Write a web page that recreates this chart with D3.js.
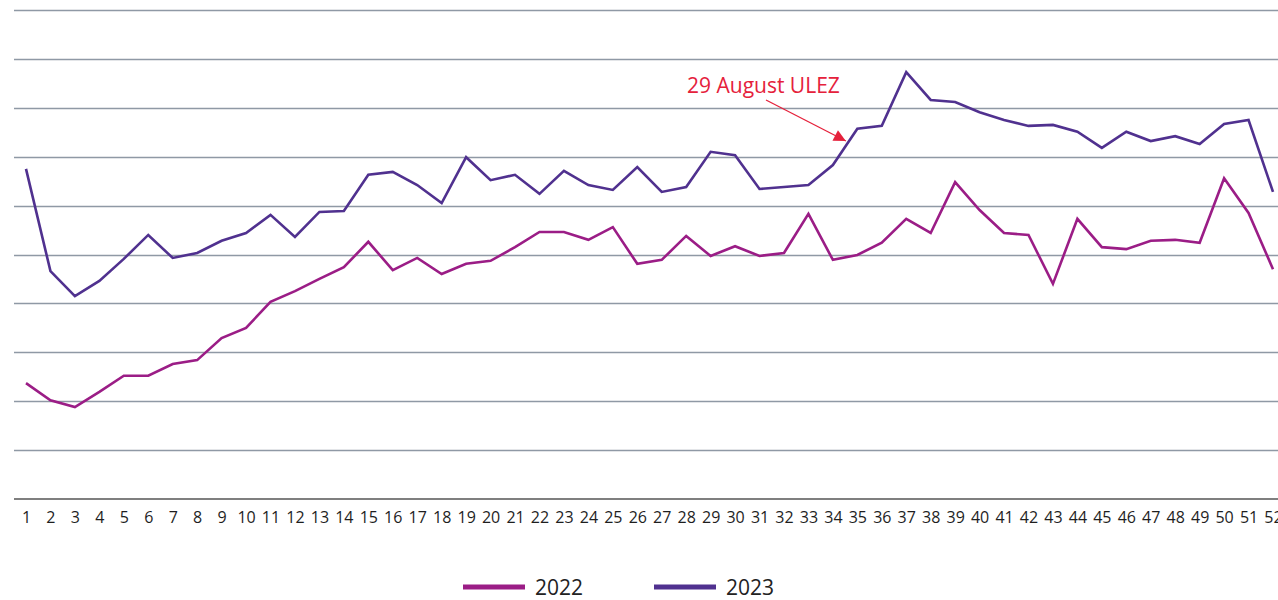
<!DOCTYPE html>
<html>
<head>
<meta charset="utf-8">
<script src="https://cdn.jsdelivr.net/npm/d3@7"></script>
<style>
	body { margin: 0; background: #fff; }
	svg { display: block; font-family: 'Open Sans', sans-serif; }
</style>
</head>
<body>
<svg id="chart" width="1278" height="600"></svg>
<script>
var weeks = d3.range(1, 53);

var values2022 = [23.7, 20.2, 18.8, 21.9, 25.2, 25.2, 27.6, 28.4, 32.9, 35.0,
	40.3, 42.5, 45.0, 47.4, 52.6, 46.8, 49.3, 46.0, 48.1, 48.7,
	51.5, 54.6, 54.6, 53.0, 55.6, 48.1, 48.9, 53.8, 49.7, 51.7,
	49.7, 50.3, 58.3, 48.9, 49.9, 52.4, 57.3, 54.4, 64.8, 59.1,
	54.4, 54.0, 44.0, 57.3, 51.5, 51.1, 52.8, 53.0, 52.4, 65.6,
	58.5, 47.0];

var values2023 = [67.5, 46.6, 41.5, 44.6, 49.1, 54.0, 49.3, 50.3, 52.8, 54.4,
	58.1, 53.6, 58.7, 58.9, 66.3, 66.9, 64.2, 60.5, 69.9, 65.2,
	66.3, 62.4, 67.1, 64.2, 63.2, 67.9, 62.8, 63.8, 71.0, 70.3,
	63.4, 63.8, 64.2, 68.3, 75.7, 76.3, 87.3, 81.6, 81.2, 79.1,
	77.5, 76.3, 76.5, 75.1, 71.8, 75.1, 73.2, 74.2, 72.6, 76.7,
	77.5, 62.8];

var gridValues = d3.range(10, 101, 10);

var seriesNames = ['2022', '2023'];
var seriesColors = ['#9b1d86', '#50318f'];

var annotationText = '29 August ULEZ';

var svg = d3.select('#chart');

var x = d3.scalePoint().domain(weeks).range([26, 1273]);
var y = d3.scaleLinear().domain([0, 100]).range([499, 10]);

// gridlines
svg.append('g')
	.selectAll('line')
	.data(gridValues)
	.enter()
	.append('line')
	.attr('x1', 14)
	.attr('x2', 1278)
	.attr('y1', function(d) { return Math.round(y(d)) + 0.5; })
	.attr('y2', function(d) { return Math.round(y(d)) + 0.5; })
	.attr('stroke', '#8f99a5')
	.attr('stroke-width', 1.3);

// x axis
var xAxis = svg.append('g')
	.attr('transform', 'translate(0,' + y(0) + ')')
	.call(d3.axisBottom(x).tickSize(0).tickPadding(13));

xAxis.select('.domain').remove();
xAxis.append('line')
	.attr('x1', 14)
	.attr('x2', 1278)
	.attr('stroke', '#555')
	.attr('stroke-width', 1.5);

xAxis.selectAll('text')
	.attr('fill', '#1e1e1e')
	.style('font-family', "'Liberation Sans Narrow', 'Open Sans', sans-serif")
	.style('font-size', '16px');

// lines
var line = d3.line()
	.x(function(d, i) { return x(weeks[i]); })
	.y(function(d) { return y(d); });

[values2022, values2023].forEach(function(vals, i) {
	svg.append('path')
		.datum(vals)
		.attr('fill', 'none')
		.attr('stroke', seriesColors[i])
		.attr('stroke-width', 2.6)
		.attr('stroke-linejoin', 'miter')
		.attr('d', line);
});

// annotation
svg.append('defs').append('marker')
	.attr('id', 'arrowhead')
	.attr('viewBox', '0 0 10 10')
	.attr('refX', 10)
	.attr('refY', 5)
	.attr('markerUnits', 'userSpaceOnUse')
	.attr('markerWidth', 14)
	.attr('markerHeight', 12)
	.attr('orient', 'auto')
	.append('path')
	.attr('d', 'M0,0 L10,5 L0,10 Z')
	.attr('fill', '#e5213b');

svg.append('line')
	.attr('x1', 766)
	.attr('y1', 100)
	.attr('x2', x(34) + 13)
	.attr('y2', y(values2023[33]) - 24)
	.attr('stroke', '#e5213b')
	.attr('stroke-width', 1.3)
	.attr('marker-end', 'url(#arrowhead)');

svg.append('text')
	.attr('x', 687)
	.attr('y', 93)
	.attr('fill', '#e5213b')
	.style('font-size', '21px')
	.text(annotationText);

// legend
var legendX = [463, 654];
var legend = svg.append('g')
	.selectAll('g')
	.data(seriesNames)
	.enter()
	.append('g')
	.attr('transform', function(d, i) { return 'translate(' + legendX[i] + ',587)'; });

legend.append('line')
	.attr('x1', 0)
	.attr('x2', 62)
	.attr('stroke', function(d, i) { return seriesColors[i]; })
	.attr('stroke-width', 5);

legend.append('text')
	.attr('x', 72)
	.attr('y', 8)
	.attr('fill', '#222')
	.style('font-size', '21px')
	.text(function(d) { return d; });
</script>
</body>
</html>
